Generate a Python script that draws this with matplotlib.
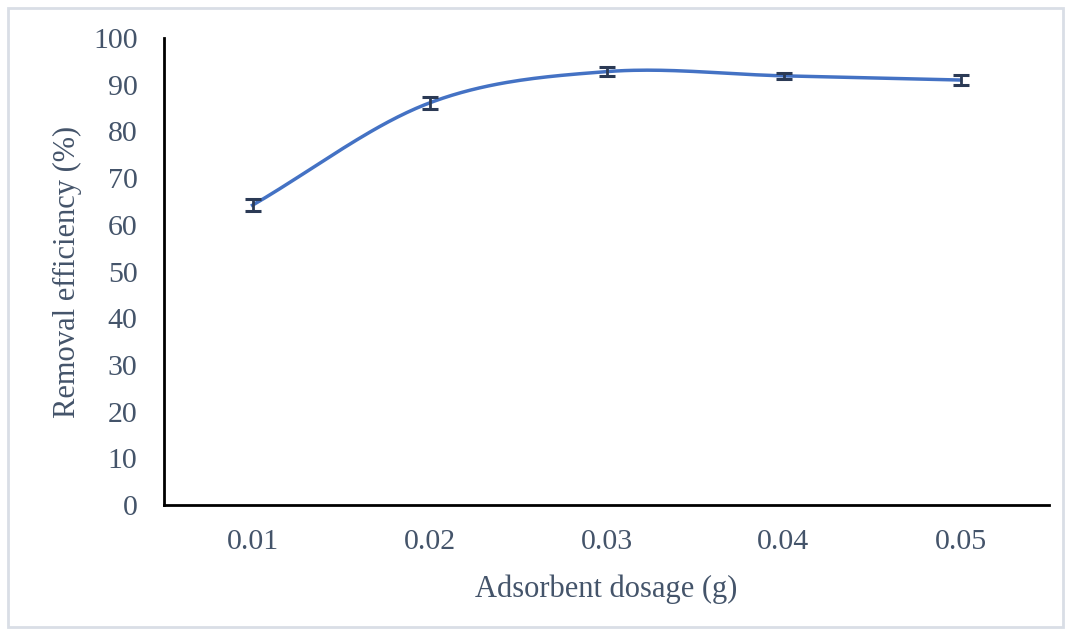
import matplotlib.pyplot as plt
import numpy as np
from matplotlib.patches import Rectangle

# Data
dosage = ["0.01", "0.02", "0.03", "0.04", "0.05"]
removal = [64.2, 86.1, 92.8, 91.9, 91.0]
errors = [1.3, 1.2, 0.9, 0.6, 1.0]

plt.rcParams['font.family'] = ['Liberation Serif', 'DejaVu Serif']
text_color = "#44546A"

fig = plt.figure(figsize=(10.71, 6.35), dpi=100)
ax = fig.add_axes([164 / 1071, 1 - 505 / 635, (1049 - 164) / 1071, (505 - 38) / 635])

# outer border like the exported chart frame
fig.patches.append(Rectangle((8 / 1071, 8 / 635), 1 - 16 / 1071, 1 - 16 / 635,
                             transform=fig.transFigure, fill=False,
                             edgecolor="#D9DEE6", linewidth=2))

x = np.arange(len(dosage))
y = np.array(removal)

# smooth line (Catmull-Rom through the points, like Excel's smoothed line)
pts = np.column_stack([x, y])
ext = np.vstack([2 * pts[0] - pts[1], pts, 2 * pts[-1] - pts[-2]])
curve = []
t = np.linspace(0, 1, 40)
for i in range(1, len(ext) - 2):
    p0, p1, p2, p3 = ext[i - 1], ext[i], ext[i + 1], ext[i + 2]
    seg = 0.5 * ((2 * p1)[None, :] + np.outer(t, -p0 + p2)
                 + np.outer(t ** 2, 2 * p0 - 5 * p1 + 4 * p2 - p3)
                 + np.outer(t ** 3, -p0 + 3 * p1 - 3 * p2 + p3))
    curve.append(seg)
curve = np.vstack(curve)
ax.plot(curve[:, 0], curve[:, 1], color="#4472C4", linewidth=2.5, zorder=2)

ax.errorbar(x, y, yerr=errors, fmt="none", ecolor="#2B3A55", elinewidth=2,
            capsize=5.5, capthick=2.2, zorder=3)

ax.set_xlim(-0.5, 4.5)
ax.set_ylim(0, 100)
ax.set_yticks(range(0, 101, 10))
ax.set_xticks(x)
ax.set_xticklabels(dosage)

for side in ["top", "right"]:
    ax.spines[side].set_visible(False)
for side in ["left", "bottom"]:
    ax.spines[side].set_linewidth(2)
    ax.spines[side].set_color("black")

ax.tick_params(axis="both", length=0, labelsize=21.5, labelcolor=text_color)
ax.tick_params(axis="y", pad=19)
ax.tick_params(axis="x", pad=17)

ax.set_xlabel("Adsorbent dosage (g)", fontsize=22, color=text_color, labelpad=14)
ax.set_ylabel("Removal efficiency (%)", fontsize=22, color=text_color, labelpad=8)

fig.savefig("out.png", dpi=100)
